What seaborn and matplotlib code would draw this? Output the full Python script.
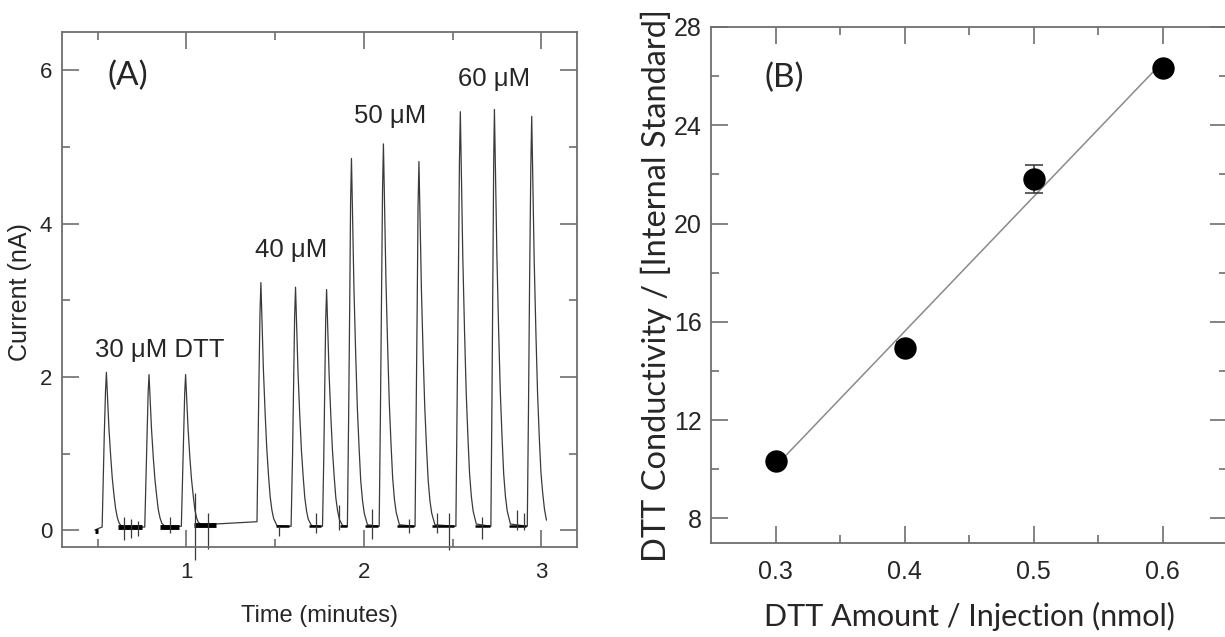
import numpy as np
import pandas as pd
import matplotlib
matplotlib.use("Agg")
import matplotlib.pyplot as plt
import seaborn as sns

# ---------------- data: panel A (electropherogram trace) ----------------
trace_time = [
    0.485, 0.503, 0.526,
    0.532, 0.538, 0.545, 0.550, 0.556, 0.564, 0.574, 0.583, 0.593, 0.602, 0.612, 0.622, 0.640,
    0.766, 0.772, 0.778, 0.785, 0.790, 0.796, 0.804, 0.814, 0.823, 0.833, 0.842, 0.852, 0.862, 0.880,
    0.972, 0.978, 0.984, 0.991, 0.996, 1.002, 1.010, 1.020, 1.029, 1.039, 1.048, 1.058, 1.068, 1.086,
    1.165,
    1.398, 1.403, 1.409, 1.415, 1.420, 1.426, 1.434, 1.444, 1.453, 1.463, 1.472, 1.482, 1.492, 1.510,
    1.590, 1.598, 1.604, 1.610, 1.615, 1.621, 1.629, 1.639, 1.648, 1.658, 1.667, 1.677, 1.687, 1.705,
    1.767, 1.774, 1.780, 1.785, 1.790, 1.796, 1.804, 1.814, 1.823, 1.833, 1.842, 1.852, 1.862, 1.880,
    1.907, 1.914, 1.920, 1.925, 1.930, 1.936, 1.944, 1.954, 1.963, 1.973, 1.982, 1.992, 2.002, 2.020,
    2.086, 2.093, 2.099, 2.105, 2.110, 2.116, 2.124, 2.134, 2.143, 2.153, 2.162, 2.172, 2.182, 2.200,
    2.288, 2.294, 2.300, 2.305, 2.310, 2.316, 2.324, 2.334, 2.343, 2.353, 2.362, 2.372, 2.382, 2.400,
    2.518, 2.525, 2.532, 2.538, 2.543, 2.549, 2.557, 2.567, 2.576, 2.586, 2.595, 2.605, 2.615, 2.633,
    2.715, 2.721, 2.726, 2.731, 2.735, 2.741, 2.749, 2.759, 2.768, 2.778, 2.787, 2.797, 2.807, 2.825,
    2.920, 2.927, 2.933, 2.940, 2.945, 2.951, 2.959, 2.969, 2.978, 2.988, 2.997, 3.007, 3.017, 3.028,
]
trace_current = [
    0.00, 0.02, 0.04,
    0.62, 1.24, 1.81, 2.06, 1.75, 1.34, 0.97, 0.68, 0.45, 0.28, 0.16, 0.09, 0.04,
    0.04, 0.61, 1.22, 1.79, 2.03, 1.73, 1.32, 0.95, 0.67, 0.45, 0.27, 0.16, 0.09, 0.05,
    0.05, 0.61, 1.22, 1.79, 2.03, 1.73, 1.32, 0.95, 0.67, 0.45, 0.27, 0.16, 0.10, 0.07,
    0.08,
    0.11, 0.97, 1.94, 2.84, 3.23, 2.75, 2.10, 1.52, 1.07, 0.71, 0.44, 0.26, 0.15, 0.06,
    0.05, 0.95, 1.90, 2.79, 3.17, 2.69, 2.06, 1.49, 1.05, 0.70, 0.43, 0.25, 0.14, 0.06,
    0.05, 0.94, 1.88, 2.76, 3.14, 2.67, 2.04, 1.48, 1.04, 0.69, 0.42, 0.25, 0.14, 0.06,
    0.05, 1.46, 2.91, 4.27, 4.85, 4.12, 3.15, 2.28, 1.60, 1.07, 0.65, 0.39, 0.22, 0.07,
    0.05, 1.51, 3.02, 4.44, 5.04, 4.28, 3.28, 2.37, 1.66, 1.11, 0.68, 0.40, 0.23, 0.07,
    0.05, 1.44, 2.89, 4.23, 4.81, 4.09, 3.13, 2.26, 1.59, 1.06, 0.65, 0.38, 0.22, 0.07,
    0.05, 1.64, 3.28, 4.80, 5.46, 4.64, 3.55, 2.57, 1.80, 1.20, 0.74, 0.44, 0.25, 0.08,
    0.05, 1.65, 3.29, 4.83, 5.49, 4.67, 3.57, 2.58, 1.81, 1.21, 0.74, 0.44, 0.25, 0.08,
    0.05, 1.62, 3.24, 4.75, 5.40, 4.59, 3.51, 2.54, 1.78, 1.19, 0.75, 0.48, 0.27, 0.13,
]

# noisy baseline stretches (start, end, level)
noise_start = [0.488, 0.618, 0.850, 1.045, 1.505, 1.690, 1.865, 2.005, 2.185, 2.385, 2.625, 2.815]
noise_end = [0.503, 0.752, 0.960, 1.165, 1.580, 1.760, 1.905, 2.080, 2.280, 2.510, 2.712, 2.915]
noise_level = [-0.015, 0.035, 0.045, 0.065, 0.05, 0.05, 0.05, 0.05, 0.05, 0.05, 0.05, 0.05]

# spikes in the trace
spike_time = [0.651, 0.690, 0.726, 0.910, 1.051, 1.122, 1.520, 1.732, 1.858, 2.046, 2.252, 2.412, 2.478, 2.666, 2.863, 2.900]
spike_low = [-0.13, -0.10, -0.08, -0.04, -0.39, -0.24, -0.07, -0.04, 0.00, -0.11, -0.04, -0.04, -0.26, -0.11, 0.00, 0.00]
spike_high = [0.17, 0.15, 0.12, 0.17, 0.48, 0.22, 0.06, 0.22, 0.33, 0.28, 0.15, 0.22, 0.22, 0.17, 0.26, 0.22]

peak_labels = ["30 \u03bcM DTT", "40 \u03bcM", "50 \u03bcM", "60 \u03bcM"]
label_time = [0.488, 1.389, 1.942, 2.532]
label_current = [2.26, 3.57, 5.31, 5.80]

# ---------------- data: panel B (calibration) ----------------
dtt_amount = [0.3, 0.4, 0.5, 0.6]
cond_ratio = [10.33, 14.94, 21.80, 26.32]
cond_err = [0.10, 0.22, 0.57, 0.10]

# ---------------- style ----------------
sns.set_theme(style="ticks")
plt.rcParams["font.family"] = ["Liberation Sans", "DejaVu Sans"]
spine_col = "#6e6e6e"

fig = plt.figure(figsize=(12.25, 6.37), dpi=100)
ax1 = fig.add_axes([62 / 1225, 90 / 637, 515 / 1225, 515 / 637])
ax2 = fig.add_axes([711 / 1225, 94 / 637, 516 / 1225, 516 / 637])

for ax in (ax1, ax2):
    for s in ax.spines.values():
        s.set_color(spine_col)
        s.set_linewidth(1.3)
        s.set_visible(True)
    ax.tick_params(which="both", direction="in", top=True, right=True,
                   color=spine_col, width=1.2)
    ax.tick_params(which="major", length=12)
    ax.tick_params(which="minor", length=6)

# ---- panel A ----
trace_df = pd.DataFrame({"Time": trace_time, "Current": trace_current})
sns.lineplot(data=trace_df, x="Time", y="Current", sort=False, estimator=None,
             color="#3a3a3a", linewidth=0.9, ax=ax1)
for k, (a, b, lv) in enumerate(zip(noise_start, noise_end, noise_level)):
    ax1.plot([a, b], [lv, lv], color="black", linewidth=3.5 if k < 4 else 1.8,
             solid_capstyle="butt")
ax1.vlines(spike_time, spike_low, spike_high, color="#3a3a3a", linewidth=0.9, clip_on=False)

ax1.set_xlim(0.3, 3.2)
ax1.set_ylim(-0.22, 6.5)
ax1.set_xticks([1, 2, 3])
ax1.set_xticks([0.5, 1.5, 2.5], minor=True)
ax1.set_yticks([0, 2, 4, 6])
ax1.set_yticks([1, 3, 5], minor=True)
ax1.tick_params(axis="x", which="major", labelsize=16, pad=11)
ax1.tick_params(axis="y", which="major", labelsize=16, pad=7)
ax1.set_xlabel("Time (minutes)", fontsize=17)
ax1.set_ylabel("Current (nA)", fontsize=18)
ax1.xaxis.set_label_coords(0.5, -0.112)
ax1.yaxis.set_label_coords(-0.058, 0.495)

for txt, tx, ty in zip(peak_labels, label_time, label_current):
    ax1.text(tx, ty, txt, fontsize=18.5, ha="left", va="baseline")
ax1.text(0.555, 5.80, "(A)", fontsize=24, ha="left", va="baseline",
         family=["Lato", "DejaVu Sans"])

# ---- panel B ----
sns.regplot(x=dtt_amount, y=cond_ratio, scatter=False, ci=None, truncate=True,
            line_kws={"color": "#8a8a8a", "linewidth": 1.1}, ax=ax2)
ax2.errorbar(dtt_amount, cond_ratio, yerr=cond_err, fmt="none", ecolor="#333333",
             elinewidth=1.1, capsize=6.5, capthick=1.1, zorder=3)
sns.scatterplot(x=dtt_amount, y=cond_ratio, s=260, color="black", edgecolor="black",
                linewidth=0, zorder=4, ax=ax2)

ax2.set_xlim(0.25, 0.65)
ax2.set_ylim(7, 28)
ax2.set_xticks([0.3, 0.4, 0.5, 0.6])
ax2.set_xticks([0.35, 0.45, 0.55], minor=True)
ax2.set_yticks([8, 12, 16, 20, 24, 28])
ax2.set_yticks([10, 14, 18, 22, 26], minor=True)
ax2.tick_params(axis="x", which="major", labelsize=18, pad=12)
ax2.tick_params(axis="y", which="major", labelsize=18, pad=6.5)
ax2.set_xlabel("DTT Amount / Injection (nmol)", fontsize=22, family=["Lato", "DejaVu Sans"])
ax2.set_ylabel("DTT Conductivity / [Internal Standard]", fontsize=23.5,
               family=["Lato", "DejaVu Sans"])
ax2.xaxis.set_label_coords(0.5, -0.115)
ax2.yaxis.set_label_coords(-0.076, 0.5)
ax2.text(0.2918, 25.56, "(B)", fontsize=24, ha="left", va="baseline",
         family=["Lato", "DejaVu Sans"])

fig.savefig("out.png", dpi=100)
